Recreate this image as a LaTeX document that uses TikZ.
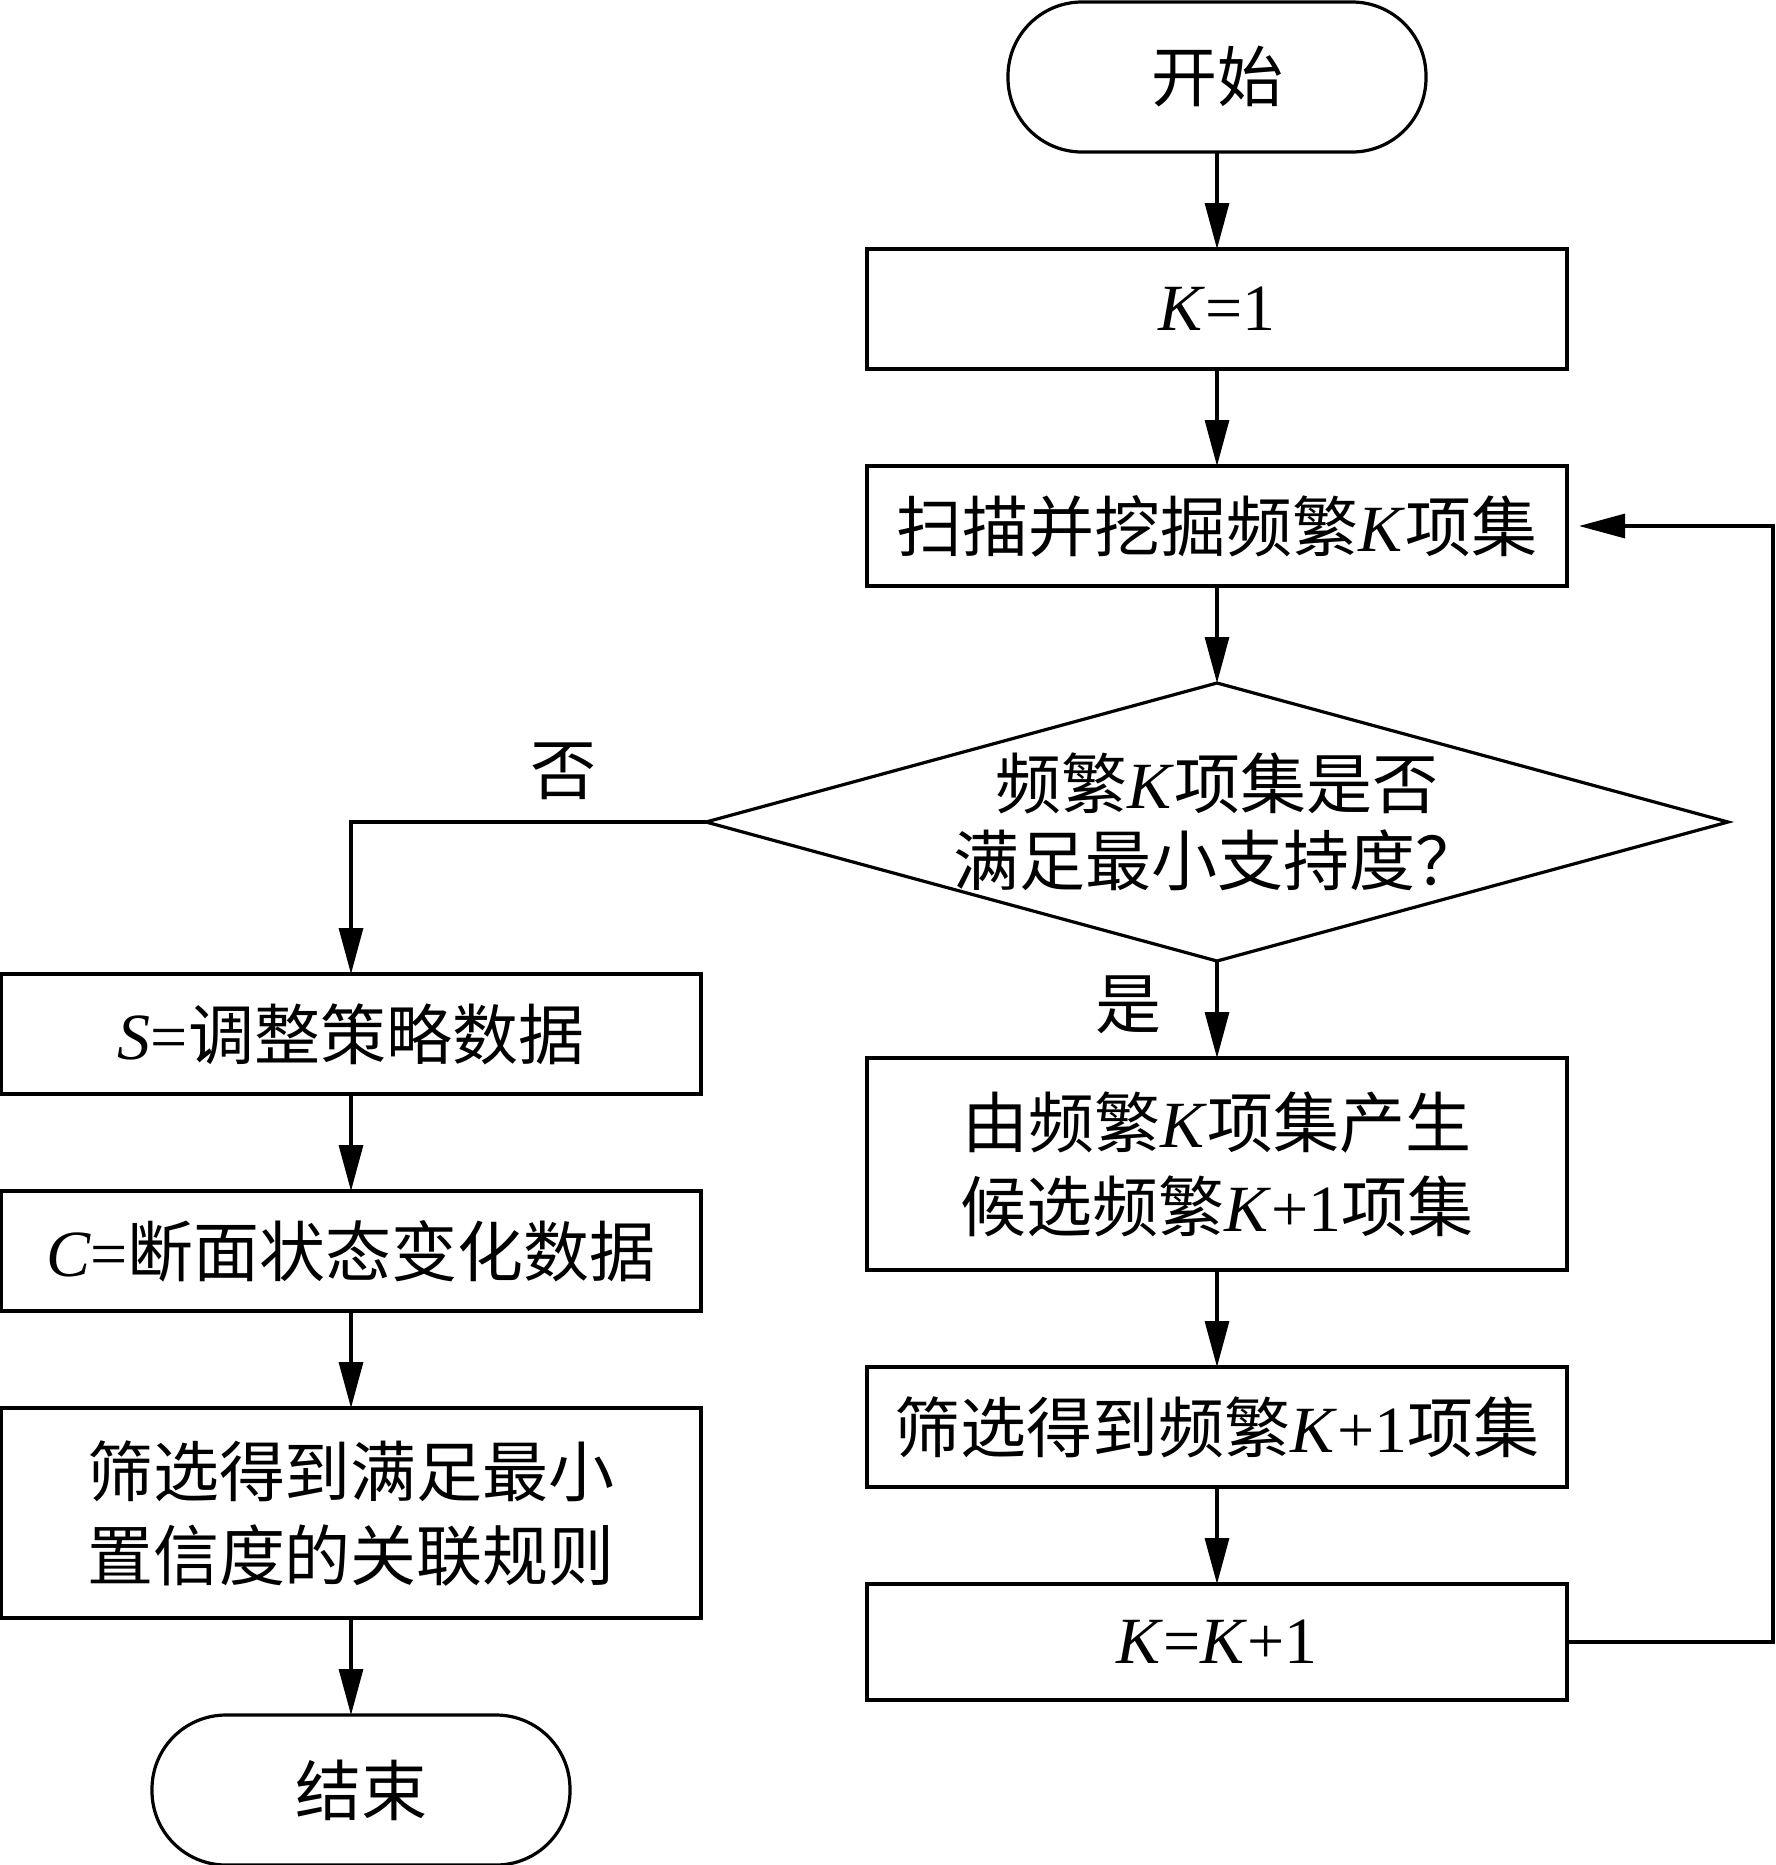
\documentclass[tikz,border=0pt]{standalone}
\usepackage{fontspec}
\setmainfont{Noto Sans CJK SC}
\newfontfamily\lt{Liberation Serif}
\newcommand{\tm}[1]{{\lt #1}}
\usetikzlibrary{shapes,arrows.meta,positioning}

\begin{document}
\begin{tikzpicture}[x=0.5pt,y=-0.5pt,node distance=48.5pt,
  every node/.style={font=\fontsize{33}{42}\selectfont,inner sep=0pt,outer sep=0pt},
  block/.style={draw,rectangle,line width=1.6pt,minimum width=350pt,minimum height=60pt,align=center},
  term/.style={draw,rectangle,rounded corners=37pt,line width=1.6pt,minimum width=209pt,minimum height=75pt},
  dia/.style={draw,diamond,line width=1.6pt,minimum width=511pt,minimum height=139pt},
  arr/.style={line width=1.6pt,-{Triangle[length=23pt,width=12pt]}}]

        \useasboundingbox (0,0) rectangle (1776,1865);

        % right column
        \node[term] (start) at (1217,77) {开始};
        \node[block] (k1) [below = of start] {\tm{\textit{K}=1}};
        \node[block] (scan) [below = of k1] {扫描并挖掘频繁\tm{\textit{K}}项集};
        \node[dia] (dec) [below = of scan] {};
        \node[align=center,font=\fontsize{33}{38.5}\selectfont] (decq) at (dec) {频繁\tm{\textit{K}}项集是否\\满足最小支持度？};
        \node[block,minimum height=106pt] (gen) [below = of dec] {由频繁\tm{\textit{K}}项集产生\\候选频繁\tm{\textit{K}+1}项集};
        \node[block] (filt) [below = of gen] {筛选得到频繁\tm{\textit{K}+1}项集};
        \node[block,minimum height=58pt] (inc) [below = of filt] {\tm{\textit{K}=\textit{K}+1}};
        \coordinate (back) at (1773,0);

        % left column
        \node[block] (sbox) at (351,1034) {\tm{\textit{S}=}调整策略数据};
        \node[block] (cbox) [below = of sbox] {\tm{\textit{C}=}断面状态变化数据};
        \node[block,minimum height=105pt] (rule) [below = of cbox] {筛选得到满足最小\\置信度的关联规则};
        \node[term] (end) [below = of rule, xshift=5pt] {结束};

        \node (no) at (563,771) {否};
        \node (yes) at (1128,1005) {是};

        \draw[arr] (start) -- (k1);
        \draw[arr] (k1) -- (scan);
        \draw[arr] (scan) -- (dec);
        \draw[arr] (dec) -- (gen);
        \draw[arr] (gen) -- (filt);
        \draw[arr] (filt) -- (inc);
        \draw[arr,shorten >=6pt] (inc.east) -- (inc.east -| back) |- (scan.east);
        \draw[arr] (dec.west) -| (sbox.north);
        \draw[arr] (sbox) -- (cbox);
        \draw[arr] (cbox) -- (rule);
        \draw[arr] (rule) -- (rule |- end.north);
\end{tikzpicture}
\end{document}
